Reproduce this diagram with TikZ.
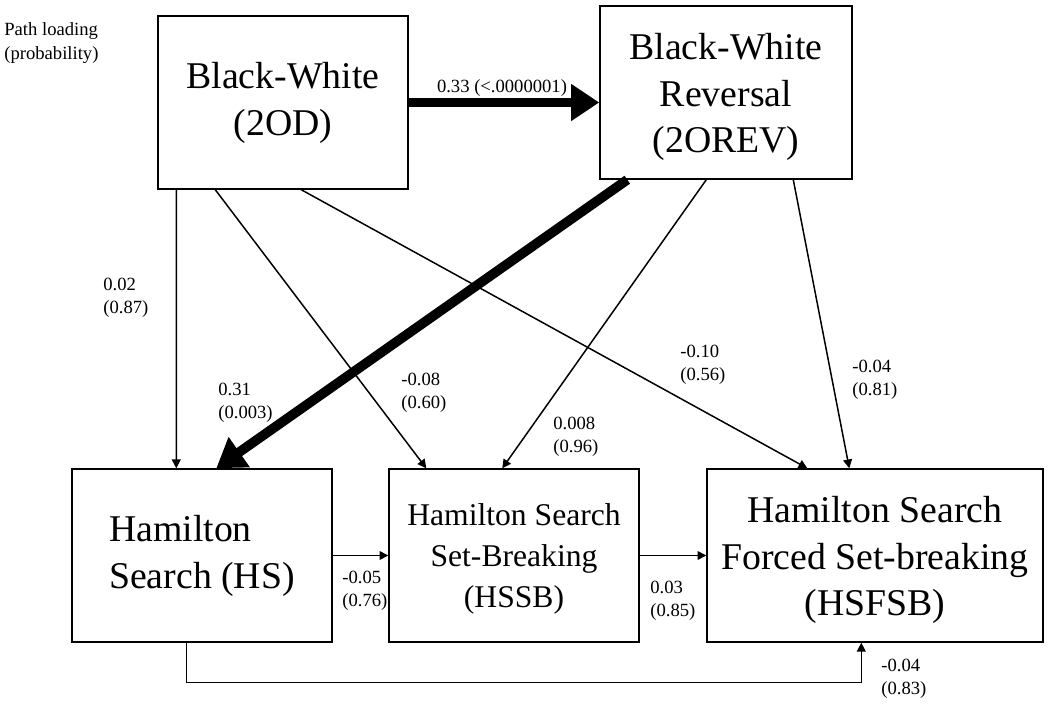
\documentclass[tikz,border=0pt]{standalone}
\usepackage{fontspec}
\setmainfont{Liberation Serif}
\usetikzlibrary{arrows.meta,calc}

\begin{document}
\begin{tikzpicture}[x=0.02cm, y=-0.02cm,
  box/.style={draw, line width=0.85pt, align=center, inner sep=0pt, minimum height=3.46cm},
  bigtext/.style={font=\fontsize{21.5}{26.7}\selectfont},
  loading/.style={align=left, anchor=west, inner sep=0pt, font=\fontsize{10.6}{13.4}\selectfont},
  link/.style={line width=0.85pt, -{Triangle[length=5pt,width=5pt]}},
  heavylink/.style={line width=5.5pt, -{Triangle[length=16pt,width=20pt]}}]
\useasboundingbox (0,0) rectangle (1050,706);

\node[box, bigtext, minimum width=5cm] (od) at (283,102.5) {Black-White\\(2OD)};
\node[box, bigtext, minimum width=5.04cm] (orev) at (726,92.5) {\rule{0pt}{20pt}Black-White\\Reversal\\(2OREV)};
\node[box, bigtext, align=left, minimum width=5.2cm] (hs) at (202,555.5) {Hamilton\\Search (HS)};
\node[box, font=\fontsize{18}{23.3}\selectfont, minimum width=5cm] (hssb) at (514,555.5) {\rule{0pt}{16.8pt}Hamilton Search\\Set-Breaking\\(HSSB)};
\node[box, bigtext, minimum width=6.72cm] (hsfsb) at (875,555.5) {\rule{0pt}{20pt}Hamilton Search\\Forced Set-breaking\\(HSFSB)};

\node[loading] (key) at (4,43) {Path loading\\(probability)};

\draw[heavylink] (od.east) -- (od.east -| orev.west);
\node[loading, anchor=center] (lodorev) at (502,88) {0.33 (<.0000001)};

\draw[link] ($(od.south west)+(19,0)$) -- ($(hs.north west)+(105,0)$);
\draw[link] ($(od.south west)+(58,0)$) -- ($(hssb.north west)+(38,0)$);
\draw[link] ($(od.south west)+(144,0)$) -- ($(hsfsb.north west)+(101,0)$);
\draw[heavylink] ($(orev.south west)+(28,0)$) -- ($(hs.north west)+(145,0)$);
\draw[link] ($(orev.south west)+(107,0)$) -- ($(hssb.north west)+(114,0)$);
\draw[link] ($(orev.south west)+(194,0)$) -- ($(hsfsb.north west)+(143,0)$);

\draw[link] (hs.east) -- (hssb.west);
\draw[link] (hssb.east) -- (hsfsb.west);
\draw[link] ($(hs.south west)+(115,0)$) -- ++(0,40) -| ($(hsfsb.south west)+(155,0)$);

\node[loading] (lodhs) at (103,298) {0.02\\(0.87)};
\node[loading] (lorevhs) at (218,403) {0.31\\(0.003)};
\node[loading] (lodhssb) at (401,393) {-0.08\\(0.60)};
\node[loading] (lorevhssb) at (553,437) {0.008\\(0.96)};
\node[loading] (lodhsfsb) at (680,365) {-0.10\\(0.56)};
\node[loading] (lorevhsfsb) at (852,380) {-0.04\\(0.81)};
\node[loading] (lhshssb) at (342,591) {-0.05\\(0.76)};
\node[loading] (lhssbhsfsb) at (650,601) {0.03\\(0.85)};
\node[loading] (lhshsfsb) at (881,679) {-0.04\\(0.83)};
\end{tikzpicture}
\end{document}
